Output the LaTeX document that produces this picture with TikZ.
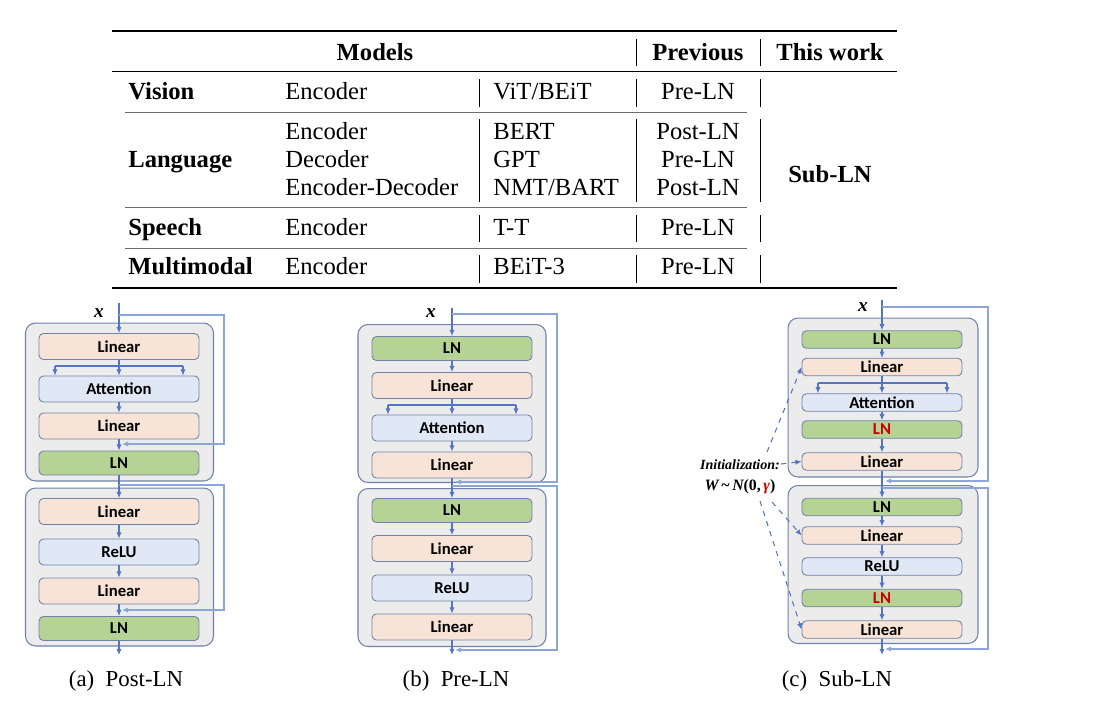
\documentclass[tikz,border=0pt]{standalone}
\usepackage{fontspec}
\setmainfont{Liberation Serif}
\newfontfamily\boxfont{Carlito}
\usetikzlibrary{calc}
\usetikzlibrary{arrows.meta}

\definecolor{flowblue}{RGB}{84,117,196}
\definecolor{resblue}{RGB}{140,165,218}
\definecolor{panelgray}{RGB}{236,236,236}
\definecolor{paneledge}{RGB}{112,130,170}
\definecolor{linfill}{RGB}{248,228,214}
\definecolor{attfill}{RGB}{224,232,245}
\definecolor{lnfill}{RGB}{181,211,149}
\definecolor{redln}{RGB}{200,0,0}
\definecolor{rulegray}{RGB}{110,110,110}

\begin{document}
\begin{tikzpicture}[x=0.02cm, y=-0.02cm,
  cell/.style={font=\fontsize{14}{16}\selectfont, inner sep=0pt},
  head/.style={font=\fontsize{14}{16}\selectfont\bfseries, inner sep=0pt},
  subcap/.style={font=\fontsize{13}{15}\selectfont, inner sep=0pt, anchor=base},
  panel/.style={draw=paneledge, fill=panelgray, rounded corners=0.2cm, line width=0.6pt, minimum width=3.76cm, minimum height=3.16cm},
  blk/.style={draw=paneledge, rounded corners=2.5pt, line width=0.5pt, minimum width=3.2cm, minimum height=0.52cm, inner sep=0pt, font=\boxfont\bfseries\fontsize{9.5}{10}\selectfont},
  lin/.style={blk, fill=linfill},
  att/.style={blk, fill=attfill},
  lnb/.style={blk, fill=lnfill, minimum height=0.48cm},
  thin/.style={minimum height=0.35cm},
  wire/.style={draw=flowblue, line width=0.6pt},
  flow/.style={wire, -{Latex[length=3.5pt,width=3pt]}},
  res/.style={draw=resblue, line width=0.6pt, -{Latex[length=3.5pt,width=3pt]}},
  initarr/.style={draw=flowblue, dashed, line width=0.6pt, -{Latex[length=3.5pt,width=3pt]}},
  xin/.style={font=\fontsize{11}{12}\selectfont\bfseries\itshape, inner sep=0pt}]
\useasboundingbox (0,0) rectangle (1095,701);

% table
\draw[line width=1pt] (112,30.7) -- (897,30.7);
\draw[line width=0.6pt] (112,71.3) -- (897,71.3);
\foreach \y in {112,207,248}
\draw[rulegray, line width=0.5pt] (125,\y) -- (747,\y);
\draw[line width=1pt] (112,288) -- (897,288);

\foreach \x in {636,760}
\draw[line width=0.4pt] (\x,39) -- (\x,66);
\foreach \x in {479,636,760}
\foreach \a/\b in {79/107,119/202,215/242,255/283}
\draw[line width=0.4pt] (\x,\a) -- (\x,\b);

\node[head, anchor=base] (hmod) at (375,60) {Models};
\node[head, anchor=base] (hprev) at (698,60) {Previous};
\node[head, anchor=base] (hwork) at (830,60) {This work};

\foreach \dom/\y [count=\i] in {Vision/99, Language/167, Speech/235.5, Multimodal/274}
\node[head, anchor=base west] (dom\i) at (128,\y) {\dom};

\foreach \arch/\mdl/\prev/\y [count=\i] in {Encoder/{ViT/BEiT}/Pre-LN/99, Encoder/BERT/Post-LN/139, Decoder/GPT/Pre-LN/167, Encoder-Decoder/{NMT/BART}/Post-LN/195, Encoder/T-T/Pre-LN/235.5, Encoder/BEiT-3/Pre-LN/274}
{
\node[cell, anchor=base west] (arch\i) at (285,\y) {\arch};
\node[cell, anchor=base west] (mdl\i) at (493,\y) {\mdl};
\node[cell, anchor=base] (prev\i) at (698,\y) {\prev};
}
\node[head, anchor=base] (sub) at (830,182) {Sub-LN};

% (a) Post-LN
\node[panel] (pa1) at (119.5,402) {};
\node[panel] (pa2) at (119.5,567) {};
\node[lin] (la1) at (119,346.5) {Linear};
\node[att] (aa1) at (119,389) {Attention};
\node[lin] (la2) at (119,426) {Linear};
\node[lnb] (na1) at (119,463) {LN};
\node[lin] (la3) at (119,511.5) {Linear};
\node[att] (ra1) at (119,552) {ReLU};
\node[lin] (la4) at (119,591) {Linear};
\node[lnb] (na2) at (119,628.5) {LN};

\node[xin] (xa) at (99,313) {x};
\coordinate (ina) at (119,303);
\coordinate (outa) at (119,655);
\coordinate (ba) at (119,366);
\coordinate (bal) at (55,366);
\coordinate (bar) at (183,366);
\draw[flow] (ina) -- (la1);
\draw[wire] (la1) -- (ba);
\draw[wire] (bal) -- (bar);
\foreach \c in {bal,ba,bar}
\draw[flow] (\c) -- (\c |- aa1.north);
\draw[flow] (aa1) -- (la2);
\draw[flow] (la2) -- (na1);
\draw[flow] (na1) -- (la3);
\draw[flow] (la3) -- (ra1);
\draw[flow] (ra1) -- (la4);
\draw[flow] (la4) -- (na2);
\draw[flow] (na2) -- (outa);

\coordinate (sa1) at (119,315);
\coordinate (ea1) at (122,444);
\coordinate (sa2) at (119,485);
\coordinate (ea2) at (122,610);
\draw[res] (sa1) -- ++(105,0) |- (ea1);
\draw[res] (sa2) -- ++(105,0) |- (ea2);

\node[subcap] (capa) at (126,686) {(a)\hspace{0.5em}Post-LN};

% (b) Pre-LN
\node[panel] (pb1) at (452,403.5) {};
\node[panel] (pb2) at (452,567.5) {};
\node[lnb] (nb1) at (452,348.5) {LN};
\node[lin] (lb1) at (452,385.5) {Linear};
\node[att] (ab1) at (452,428) {Attention};
\node[lin] (lb2) at (452,465) {Linear};
\node[lnb] (nb2) at (452,510.5) {LN};
\node[lin] (lb3) at (452,548.5) {Linear};
\node[att] (rb1) at (452,588) {ReLU};
\node[lin] (lb4) at (452,627) {Linear};

\node[xin] (xb) at (431,313) {x};
\coordinate (inb) at (452,308);
\coordinate (outb) at (452,655);
\coordinate (bb) at (452,405);
\coordinate (bbl) at (388,405);
\coordinate (bbr) at (516,405);
\draw[flow] (inb) -- (nb1);
\draw[flow] (nb1) -- (lb1);
\draw[wire] (lb1) -- (bb);
\draw[wire] (bbl) -- (bbr);
\foreach \c in {bbl,bb,bbr}
\draw[flow] (\c) -- (\c |- ab1.north);
\draw[flow] (ab1) -- (lb2);
\draw[flow] (lb2) -- (nb2);
\draw[flow] (nb2) -- (lb3);
\draw[flow] (lb3) -- (rb1);
\draw[flow] (rb1) -- (lb4);
\draw[flow] (lb4) -- (outb);

\coordinate (sb1) at (452,314);
\coordinate (eb1) at (455,482);
\coordinate (sb2) at (452,486);
\coordinate (eb2) at (455,650);
\draw[res] (sb1) -- ++(105,0) |- (eb1);
\draw[res] (sb2) -- ++(105,0) |- (eb2);

\node[subcap] (capb) at (456,686) {(b)\hspace{0.5em}Pre-LN};

% (c) Sub-LN
\node[panel, minimum height=3.18cm, minimum width=3.8cm] (pc1) at (883,397.5) {};
\node[panel, minimum width=3.8cm] (pc2) at (883,564.5) {};
\node[lnb, thin] (nc1) at (882,339.5) {LN};
\node[lin, thin] (lc1) at (882,367) {Linear};
\node[att, thin] (ac1) at (882,402.5) {Attention};
\node[lnb, thin, text=redln] (nc2) at (882,429.5) {LN};
\node[lin, thin] (lc2) at (882,461.5) {Linear};
\node[lnb, thin] (nc3) at (882,507) {LN};
\node[lin, thin] (lc3) at (882,535.5) {Linear};
\node[att, thin] (rc1) at (882,566.5) {ReLU};
\node[lnb, thin, text=redln] (nc4) at (882,598) {LN};
\node[lin, thin] (lc4) at (882,629.5) {Linear};

\node[xin] (xc) at (863,307) {x};
\coordinate (inc) at (882,300);
\coordinate (outc) at (882,655);
\coordinate (bc) at (882,383);
\coordinate (bcl) at (818,383);
\coordinate (bcr) at (947,383);
\draw[flow] (inc) -- (nc1);
\draw[flow] (nc1) -- (lc1);
\draw[wire] (lc1) -- (bc);
\draw[wire] (bcl) -- (bcr);
\foreach \c in {bcl,bc,bcr}
\draw[flow] (\c) -- (\c |- ac1.north);
\draw[flow] (ac1) -- (nc2);
\draw[flow] (nc2) -- (lc2);
\draw[flow] (lc2) -- (nc3);
\draw[flow] (nc3) -- (lc3);
\draw[flow] (lc3) -- (rc1);
\draw[flow] (rc1) -- (nc4);
\draw[flow] (nc4) -- (lc4);
\draw[flow] (lc4) -- (outc);

\coordinate (sc1) at (882,307);
\coordinate (ec1) at (885,481);
\coordinate (sc2) at (882,488);
\coordinate (ec2) at (885,649);
\draw[res] (sc1) -- ++(106,0) |- (ec1);
\draw[res] (sc2) -- ++(106,0) |- (ec2);

\node[font=\fontsize{8}{9}\selectfont\bfseries\itshape, inner sep=0pt] (initt) at (740,465) {Initialization:};
\node[font=\fontsize{9}{10}\selectfont\bfseries, inner sep=0pt] (initw) at (740,487) {\itshape W\,{\upshape\textasciitilde}\,N\upshape(0,\,{\itshape\color{redln}γ})};
\coordinate (d1) at (767,452);
\coordinate (d2) at (781,464);
\coordinate (d3) at (772,502);
\coordinate (d4) at (760,501);
\draw[initarr] (d1) -- (lc1.west);
\draw[initarr] (d2) -- (lc2.west);
\draw[initarr] (d3) -- (lc3.west);
\draw[initarr] (d4) -- (lc4.west);

\node[subcap] (capc) at (837,686) {(c)\hspace{0.5em}Sub-LN};

\end{tikzpicture}
\end{document}
